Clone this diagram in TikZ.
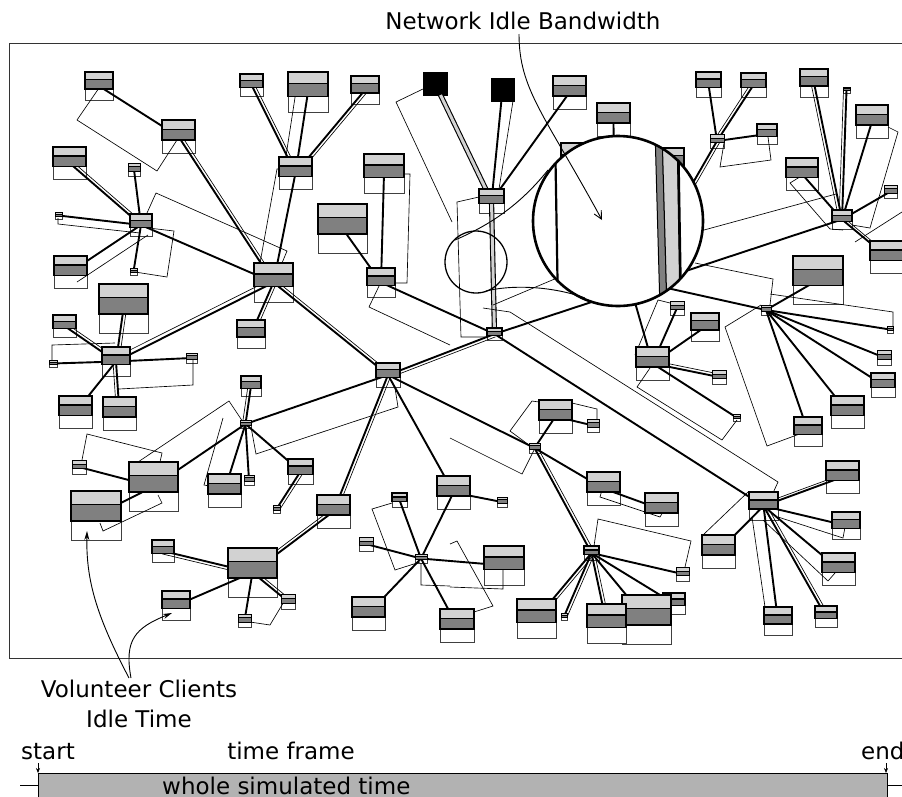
\documentclass[tikz,border=0pt]{standalone}
\usepackage{fontspec}
\setmainfont{DejaVu Sans}
\usetikzlibrary{calc,arrows.meta}
\pgfdeclarelayer{fg}
\pgfdeclarelayer{top}
\pgfsetlayers{main,fg,top}
\tikzset{
 cl/.style={draw=black!75, line width=0.8pt, fill=white, inner sep=0pt, outer sep=0pt, anchor=north west, rectangle},
 lband/.style={fill=gray!35, draw=black},
 dband/.style={fill=gray, draw=black},
 tk/.style={line width=1.9pt, black},
 tn/.style={line width=0.65pt, black},
 strip/.style={line width=1.1pt, double=gray!35, double distance=3pt},
 blk/.style={fill=black, draw=black, inner sep=0pt, outer sep=0pt, anchor=north west, rectangle},
 lab/.style={font=\fontsize{23}{27}\selectfont, inner sep=0pt, anchor=base},
 tip/.style={-{Stealth[length=9pt,width=5pt]}, line width=0.9pt},
}
\newcommand\cbox[5]{%
 \node[cl, minimum width=#4pt, minimum height=#5pt] (#1) at (#2,#3) {};
 \ifdim #4pt<15pt \def\bw{0.7pt}\else\def\bw{1.3pt}\fi
 \begin{pgfonlayer}{fg}
 \filldraw[lband, line width=\bw] (#1.north west) rectangle ($(#1.north east)!0.28!(#1.south east)$);
 \filldraw[dband, line width=\bw] ($(#1.north west)!0.28!(#1.south west)$) rectangle ($(#1.north east)!0.61!(#1.south east)$);
 \end{pgfonlayer}}
\newcommand\dbl[3][3pt]{%
 \draw[tk] (#2.center) -- (#3.center);
 \draw[tn] ($(#2.center)!#1!90:(#3.center)$) -- ($(#3.center)!#1!-90:(#2.center)$);}
\begin{document}
\begin{tikzpicture}[x=1pt,y=-1pt]
\useasboundingbox (0,0) rectangle (902,796);
\draw[line width=0.8pt, black!80] (9,43) rectangle (920,658);
% ---- boxes
\cbox{A1}{85}{72}{28}{28}
\cbox{A2}{162}{120}{33}{33}
\cbox{A3}{53}{147}{33}{32}
\cbox{A4}{128}{163}{12}{13}
\cbox{H1}{130}{214}{22}{22}
\cbox{A5}{55}{212}{7}{7}
\cbox{A6}{54}{256}{33}{32}
\cbox{A7}{130}{268}{7}{7}
\cbox{A8}{99}{284}{49}{49}
\cbox{A9}{53}{315}{23}{22}
\cbox{H2}{102}{347}{28}{29}
\cbox{N3}{49}{360}{8}{7}
\cbox{N4}{186}{353}{11}{10}
\cbox{N1}{59}{396}{33}{32}
\cbox{N2}{103}{397}{33}{33}
\cbox{B1}{240}{74}{23}{22}
\cbox{B2}{288}{72}{40}{40}
\cbox{B3}{351}{76}{28}{28}
\cbox{H3}{279}{157}{33}{32}
\cbox{B4}{364}{154}{40}{39}
\cbox{B5}{318}{204}{49}{49}
\cbox{H4}{367}{268}{28}{29}
\cbox{H5}{254}{263}{39}{39}
\cbox{B6}{237}{320}{28}{28}
\node[blk, minimum width=24pt, minimum height=23pt] (K1) at (423,72) {};
\node[blk, minimum width=23pt, minimum height=23pt] (K2) at (491,78) {};
\cbox{C1}{553}{76}{33}{33}
\cbox{C2}{597}{103}{33}{33}
\cbox{C3}{561}{143}{40}{40}
\cbox{C4}{656}{148}{28}{28}
\cbox{H6}{479}{189}{25}{24}
\cbox{H7}{487}{328}{15}{12}
\cbox{D1}{696}{72}{25}{25}
\cbox{D2}{741}{73}{25}{24}
\cbox{DH}{710}{134}{14}{14}
\cbox{D3}{757}{124}{20}{20}
\cbox{E1}{800}{69}{28}{28}
\cbox{E2}{843}{87}{7}{6}
\cbox{E3}{856}{105}{32}{33}
\cbox{E4}{786}{158}{32}{32}
\cbox{EH}{832}{210}{20}{19}
\cbox{E5}{884}{185}{13}{13}
\cbox{E6}{870}{241}{34}{32}
\cbox{F1}{793}{256}{50}{48}
\cbox{FH}{761}{305}{10}{10}
\cbox{F2}{887}{326}{6}{7}
\cbox{F3}{877}{350}{14}{15}
\cbox{F4}{871}{373}{24}{24}
\cbox{F5}{831}{396}{33}{32}
\cbox{F6}{794}{417}{28}{29}
\cbox{G1}{670}{301}{14}{14}
\cbox{G2}{691}{313}{28}{28}
\cbox{GH}{636}{347}{33}{33}
\cbox{G3}{712}{370}{14}{14}
\cbox{G4}{733}{414}{7}{7}
\cbox{Q}{376}{363}{24}{24}
\cbox{O1}{241}{376}{20}{20}
\cbox{OH}{240}{420}{11}{8}
\cbox{O2}{208}{474}{33}{33}
\cbox{O3}{244}{475}{10}{10}
\cbox{O4}{288}{459}{25}{25}
\cbox{O5}{273}{505}{7}{8}
\cbox{P1}{129}{462}{49}{49}
\cbox{P2}{72}{460}{14}{14}
\cbox{P3}{71}{491}{50}{49}
\cbox{Q2}{317}{495}{33}{33}
\cbox{R}{228}{548}{49}{49}
\cbox{R1}{152}{540}{22}{22}
\cbox{R2}{162}{591}{28}{29}
\cbox{R3}{281}{594}{14}{15}
\cbox{R4}{238}{614}{13}{13}
\cbox{S1}{392}{493}{15}{14}
\cbox{S2}{359}{537}{14}{14}
\cbox{SH}{415}{554}{12}{9}
\cbox{S3}{352}{597}{33}{33}
\cbox{S4}{440}{609}{34}{33}
\cbox{M}{437}{476}{33}{33}
\cbox{MT}{497}{497}{10}{10}
\cbox{HB}{539}{400}{33}{33}
\cbox{HT}{587}{419}{12}{13}
\cbox{IH}{529}{443}{11}{10}
\cbox{I1}{587}{472}{33}{33}
\cbox{I2}{645}{493}{33}{33}
\cbox{JH}{749}{492}{29}{28}
\cbox{J1}{826}{461}{33}{32}
\cbox{J2}{832}{512}{28}{27}
\cbox{J3}{822}{553}{33}{32}
\cbox{J4}{702}{535}{33}{33}
\cbox{J5}{764}{607}{28}{28}
\cbox{J6}{815}{606}{22}{21}
\cbox{KH}{584}{546}{15}{14}
\cbox{K3}{676}{567}{13}{14}
\cbox{K4}{663}{593}{22}{21}
\cbox{K5}{622}{595}{49}{49}
\cbox{K6}{587}{604}{39}{39}
\cbox{K7}{517}{599}{39}{39}
\cbox{K8}{561}{613}{6}{7}
\cbox{L}{484}{546}{40}{39}
% hidden ends under the magnifier
\coordinate (m0) at (614,220);
\coordinate (m1) at (640,282);
\coordinate (m2) at (632,292);
\coordinate (m3) at (660,240);
% ---- thick links
\foreach \a/\b in {A1/A2,A4/H1,A5/H1,A6/H1,A7/H1,H1/H5,H3/H5,B4/H4,B5/H4,H4/H7,
  N3/H2,N4/H2,N1/H2,H6/C1,H7/EH,H7/JH,DH/D1,DH/D3,EH/E3,EH/E4,EH/E5,
  FH/F1,FH/F2,FH/F3,FH/F4,FH/F5,FH/F6,GH/G1,GH/G2,GH/G4,Q/OH,Q/M,Q/IH,
  OH/O2,OH/O3,OH/O4,OH/P1,P1/P2,P1/P3,R/R2,R/R4,SH/S1,SH/S2,SH/S3,SH/S4,SH/M,SH/L,
  IH/HB,IH/I1,HB/HT,M/MT,I1/I2,JH/J2,JH/J3,JH/J4,JH/J5,KH/K3,KH/K4,KH/K5,
  C2/m0,m1/FH,m2/GH}
  \draw[tk] (\a.center) -- (\b.center);
% ---- double links
\dbl{A2}{H5}
\dbl{A3}{H1}
\dbl{B1}{H3}
\dbl[-12pt]{B2}{H3}
\dbl{B3}{H3}
\dbl{H5}{B6}
\dbl{H5}{Q}
\dbl[-4pt]{H5}{H2}
\dbl{A8}{H2}
\dbl{A9}{H2}
\dbl{N2}{H2}
\dbl[3pt]{H7}{Q}
\dbl{DH}{D2}
\dbl{DH}{m3}
\dbl{EH}{E1}
\dbl{EH}{E2}
\dbl[2.5pt]{EH}{E6}
\dbl{GH}{G3}
\dbl{Q}{Q2}
\dbl{OH}{O1}
\dbl{O4}{O5}
\dbl{R}{R1}
\dbl{R}{R3}
\dbl{R}{Q2}
\dbl{IH}{KH}
\dbl[2.5pt]{JH}{J1}
\dbl{JH}{J6}
\dbl{KH}{K6}
\dbl{KH}{K7}
\dbl{KH}{K8}
\draw[tk] (K2) -- (H6.center);
\draw[tn] ($(K2.south east)+(-1,0)$) -- ($(H6.north east)+(-5,0)$);
\draw[strip] (K1) -- (H6.center);
\draw[strip] (H6.center) -- (H7.center);
% ---- thin outlines
\begin{scope}[tn]
\draw (99,88)--(77,120)--(157,171)--(177,140);
\draw (147,213)--(156,193)--(287,251)--(282,263);
\draw (140,227)--(174,231)--(167,277)--(135,272);
\draw (58,218)--(58,224)--(140,233);
\draw (148,235)--(77,282);
\draw (279,169)--(277,169)--(260,263);
\draw (404,174)--(410,174)--(407,283)--(395,283);
\draw (380,284)--(369,307)--(450,345);
\draw (52,360)--(52,345)--(115,343);
\draw (119,389)--(193,385)--(193,360);
\draw (138,462)--(229,401)--(243,422);
\draw (82,460)--(87,434)--(162,453)--(160,462);
\draw (100,523)--(103,531)--(162,503)--(158,495);
\draw (223,418)--(204,485)--(209,486);
\draw (251,427)--(256,454)--(398,407)--(395,388);
\draw (285,600)--(270,625)--(250,622);
\draw (392,503)--(372,509)--(395,570)--(420,562);
\draw (421,563)--(421,585)--(450,586);
\draw (539,402)--(532,401)--(510,431)--(529,445);
\draw (450,438)--(522,474)--(534,450);
\draw (572,403)--(597,409)--(597,419);
\draw (602,490)--(600,497)--(660,517)--(663,512);
\draw (483,308)--(510,312)--(778,482)--(773,493);
\draw (650,368)--(637,387)--(722,440)--(737,420);
\draw (761,305)--(725,327)--(767,446)--(805,432);
\draw (594,546)--(598,519)--(691,541)--(685,567);
\draw (474,612)--(493,606)--(457,541)--(450,544);
\draw (503,567)--(503,589)--(450,587);
\draw (763,520)--(828,581)--(835,573);
\draw (778,517)--(843,538)--(845,527);
\draw (748,492)--(703,535);
\draw (752,517)--(765,607);
\draw (888,127)--(898,132)--(870,228)--(852,225);
\draw (803,175)--(790,183)--(830,229)--(843,230);
\draw (855,242)--(902,212);
\draw (724,143)--(720,167)--(771,160)--(768,137);
\draw (770,294)--(893,312)--(893,326);
\draw (695,263)--(773,279)--(770,305);
\draw (704,230)--(836,194);
\draw (493,305)--(557,278);
\draw (670,303)--(658,300)--(635,355);
\draw (423,89)--(396,102)--(452,222);
\draw (479,197)--(457,202)--(461,337)--(487,337);
\end{scope}
% ---- magnifier
\begin{pgfonlayer}{top}
\fill[white] (618,221) circle (85);
\begin{scope}
\clip (618,221) circle (85);
\draw[line width=2.2pt] (555,130) -- (558,310);
\filldraw[fill=gray, draw=black, line width=1pt] (655,130)--(662,130)--(667,310)--(660,310)--cycle;
\filldraw[fill=gray!35, draw=black, line width=1pt] (662,130)--(677,130)--(680,310)--(667,310)--cycle;
\draw[line width=2.4pt] (678,130)--(681,310);
\end{scope}
\draw[line width=2.6pt] (618,221) circle (85);
\draw[line width=1.3pt] (476,262) circle (31);
\draw[line width=0.9pt] (455,240) .. controls (490,225) and (520,205) .. (548,170);
\draw[line width=0.9pt] (486,291) .. controls (515,284) and (555,287) .. (585,298);
% labels and arrows
\node[lab] (nib) at (523,29) {Network Idle Bandwidth};
\coordinate (ta) at (519,34);
\coordinate (tb) at (602,220);
\draw[line width=0.9pt, -{Straight Barb[length=8pt,width=8pt]}] (ta) .. controls (519,90) and (545,115) .. (tb);
\end{pgfonlayer}
\node[lab] (vc1) at (139,697) {Volunteer Clients};
\node[lab] (vc2) at (139,727) {Idle Time};
\coordinate (va) at (129,678);
\coordinate (vb) at (131,678);
\coordinate (vt1) at (87,531);
\coordinate (vt2) at (172,613);
\draw[tip] (va) .. controls (96,615) and (86,580) .. (vt1);
\draw[tip] (vb) .. controls (124,640) and (135,628) .. (vt2);
% ---- timeline
\node[lab] (st) at (48,759) {start};
\node[lab] (tf) at (291,759) {time frame};
\node[lab, anchor=base west] (en) at (861,759) {end};
\node[draw=black, line width=1.3pt, fill=gray!60, minimum width=849pt, minimum height=30pt, inner sep=0pt, anchor=north west] (bar) at (38,773) {};
\node[lab, anchor=base west] (wst) at (162,794) {whole simulated time};
\coordinate (l1) at (20,785);
\coordinate (l2) at (902,785);
\draw[line width=0.8pt] (l1) -- (bar.west |- l1);
\draw[line width=0.8pt] (bar.east |- l2) -- (l2);
\coordinate (s1) at (38,763);
\coordinate (s2) at (886,763);
\draw[line width=0.6pt, -{Stealth[length=5pt,width=4pt]}] (s1) -- (bar.north west);
\draw[line width=0.6pt, -{Stealth[length=5pt,width=4pt]}] (s2) -- (s2 |- bar.north);
\end{tikzpicture}
\end{document}
